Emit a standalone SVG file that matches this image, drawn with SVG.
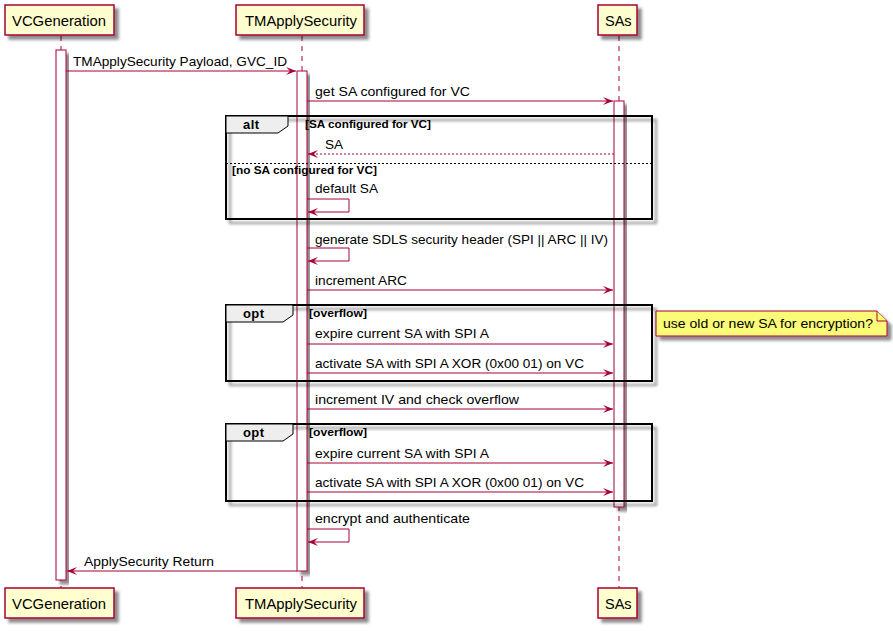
<svg xmlns="http://www.w3.org/2000/svg" width="893" height="631" viewBox="0 0 893 631">
<defs>
<filter id="sh" x="-20%" y="-20%" width="150%" height="160%">
<feGaussianBlur in="SourceAlpha" stdDeviation="1.8"/>
<feOffset dx="4" dy="4" result="b"/>
<feColorMatrix in="b" type="matrix" values="0 0 0 0 0  0 0 0 0 0  0 0 0 0 0  0 0 0 0.45 0"/>
<feMerge><feMergeNode/><feMergeNode in="SourceGraphic"/></feMerge>
</filter>
<marker id="ah" viewBox="0 0 10 8" refX="10" refY="4" markerWidth="10" markerHeight="8" markerUnits="userSpaceOnUse" orient="auto">
<polygon points="0,0 10,4 0,8 4,4" fill="#A80036"/>
</marker>
</defs>
<style>
.part rect{fill:#FEFECE;stroke:#A80036;stroke-width:1.5;}
.pt{font-family:"Liberation Sans",Arial,sans-serif;font-size:14.5px;fill:#000;}
.life{stroke:#A80036;stroke-width:1;stroke-dasharray:5,5;fill:none;}
.act{fill:#FFFFFF;stroke:#A80036;stroke-width:1;}
.msg{stroke:#A80036;stroke-width:1;fill:none;marker-end:url(#ah);}
.dash{stroke-dasharray:2,2;}
.mt{font-family:"Liberation Sans",Arial,sans-serif;font-size:13.6px;fill:#000;}
.frame{fill:none;stroke:#000;stroke-width:2;}
.tab{fill:#EEEEEE;stroke:#000;stroke-width:1;}
.ft{font-family:"Liberation Sans",Arial,sans-serif;font-size:13px;font-weight:bold;fill:#000;}
.ct{font-family:"Liberation Sans",Arial,sans-serif;font-size:11px;font-weight:bold;fill:#000;}
.sep{stroke:#000;stroke-width:1;stroke-dasharray:2,2;}
.note{fill:#FBFB77;stroke:#A80036;stroke-width:1;}
</style>

<g id="lifelines">
<line class="life" x1="61" y1="36" x2="61" y2="588"/>
<line class="life" x1="302" y1="36" x2="302" y2="588"/>
<line class="life" x1="619" y1="36" x2="619" y2="588"/>
</g>

<g id="p-vcgeneration" class="part">
<rect x="5" y="5" width="109" height="30" filter="url(#sh)"/>
<text class="pt" x="12" y="26" textLength="94" lengthAdjust="spacingAndGlyphs">VCGeneration</text>
<rect x="5" y="588" width="109" height="30" filter="url(#sh)"/>
<text class="pt" x="12" y="609" textLength="94" lengthAdjust="spacingAndGlyphs">VCGeneration</text>
</g>
<g id="p-tmapplysecurity" class="part">
<rect x="236" y="5" width="128" height="30" filter="url(#sh)"/>
<text class="pt" x="245" y="26" textLength="112" lengthAdjust="spacingAndGlyphs">TMApplySecurity</text>
<rect x="236" y="588" width="128" height="30" filter="url(#sh)"/>
<text class="pt" x="245" y="609" textLength="112" lengthAdjust="spacingAndGlyphs">TMApplySecurity</text>
</g>
<g id="p-sas" class="part">
<rect x="598" y="5" width="39" height="30" filter="url(#sh)"/>
<text class="pt" x="605" y="26">SAs</text>
<rect x="598" y="588" width="39" height="30" filter="url(#sh)"/>
<text class="pt" x="605" y="609">SAs</text>
</g>

<g id="activations">
<rect class="act" x="56" y="50" width="10" height="530" filter="url(#sh)"/>
<rect class="act" x="297" y="71" width="10" height="500" filter="url(#sh)"/>
<rect class="act" x="614" y="101" width="10" height="406" filter="url(#sh)"/>
</g>

<g id="frames">
<g id="alt">
<rect class="frame" x="226" y="116" width="426" height="103" filter="url(#sh)"/>
<path class="tab" d="M226,116 H288 V126 L278,133 H226 Z"/>
<text class="ft" x="243" y="129" textLength="16">alt</text>
<text class="ct" x="305" y="128" textLength="126" lengthAdjust="spacingAndGlyphs">[SA configured for VC]</text>
<line class="sep" x1="226" y1="163.5" x2="652" y2="163.5"/>
<text class="ct" x="232" y="174" textLength="145" lengthAdjust="spacingAndGlyphs">[no SA configured for VC]</text>
</g>
<g id="opt1">
<rect class="frame" x="226" y="305" width="426" height="76" filter="url(#sh)"/>
<path class="tab" d="M226,305 H293 V315 L283,322 H226 Z"/>
<text class="ft" x="243" y="318" textLength="21">opt</text>
<text class="ct" x="309" y="317" textLength="58" lengthAdjust="spacingAndGlyphs">[overflow]</text>
</g>
<g id="opt2">
<rect class="frame" x="226" y="424" width="426" height="77" filter="url(#sh)"/>
<path class="tab" d="M226,424 H293 V434 L283,441 H226 Z"/>
<text class="ft" x="243" y="437" textLength="21">opt</text>
<text class="ct" x="309" y="436" textLength="58" lengthAdjust="spacingAndGlyphs">[overflow]</text>
</g>
</g>

<g id="connectors">
<line class="msg" x1="66" y1="71" x2="296" y2="71"/>
<text class="mt" x="73" y="66" textLength="214" lengthAdjust="spacingAndGlyphs">TMApplySecurity Payload, GVC_ID</text>

<line class="msg" x1="307" y1="101" x2="613" y2="101"/>
<text class="mt" x="315" y="96" textLength="155" lengthAdjust="spacingAndGlyphs">get SA configured for VC</text>

<line class="msg dash" x1="614" y1="154" x2="308" y2="154"/>
<text class="mt" x="325" y="149">SA</text>

<path class="msg" d="M307,199 H349 V212 H308"/>
<text class="mt" x="315" y="193" textLength="63" lengthAdjust="spacingAndGlyphs">default SA</text>

<path class="msg" d="M307,248 H349 V261 H308"/>
<text class="mt" x="315" y="244" textLength="293" lengthAdjust="spacingAndGlyphs">generate SDLS security header (SPI || ARC || IV)</text>

<line class="msg" x1="307" y1="290" x2="613" y2="290"/>
<text class="mt" x="315" y="285" textLength="92" lengthAdjust="spacingAndGlyphs">increment ARC</text>

<line class="msg" x1="307" y1="344" x2="613" y2="344"/>
<text class="mt" x="315" y="338" textLength="174" lengthAdjust="spacingAndGlyphs">expire current SA with SPI A</text>

<line class="msg" x1="307" y1="373" x2="613" y2="373"/>
<text class="mt" x="315" y="368" textLength="269" lengthAdjust="spacingAndGlyphs">activate SA with SPI A XOR (0x00 01) on VC</text>

<line class="msg" x1="307" y1="409" x2="613" y2="409"/>
<text class="mt" x="315" y="404" textLength="204" lengthAdjust="spacingAndGlyphs">increment IV and check overflow</text>

<line class="msg" x1="307" y1="463" x2="613" y2="463"/>
<text class="mt" x="315" y="458" textLength="174" lengthAdjust="spacingAndGlyphs">expire current SA with SPI A</text>

<line class="msg" x1="307" y1="492" x2="613" y2="492"/>
<text class="mt" x="315" y="487" textLength="269" lengthAdjust="spacingAndGlyphs">activate SA with SPI A XOR (0x00 01) on VC</text>

<path class="msg" d="M307,529 H349 V542 H308"/>
<text class="mt" x="315" y="523" textLength="155" lengthAdjust="spacingAndGlyphs">encrypt and authenticate</text>

<line class="msg" x1="297" y1="571" x2="67" y2="571"/>
<text class="mt" x="84" y="566" textLength="130" lengthAdjust="spacingAndGlyphs">ApplySecurity Return</text>
</g>

<g id="note">
<path class="note" d="M656,311 H877 L887,321 V336 H656 Z" filter="url(#sh)"/>
<path class="note" d="M877,311 V321 H887" fill="none"/>
<text class="mt" x="663" y="328" textLength="210" lengthAdjust="spacingAndGlyphs">use old or new SA for encryption?</text>
</g>
</svg>
